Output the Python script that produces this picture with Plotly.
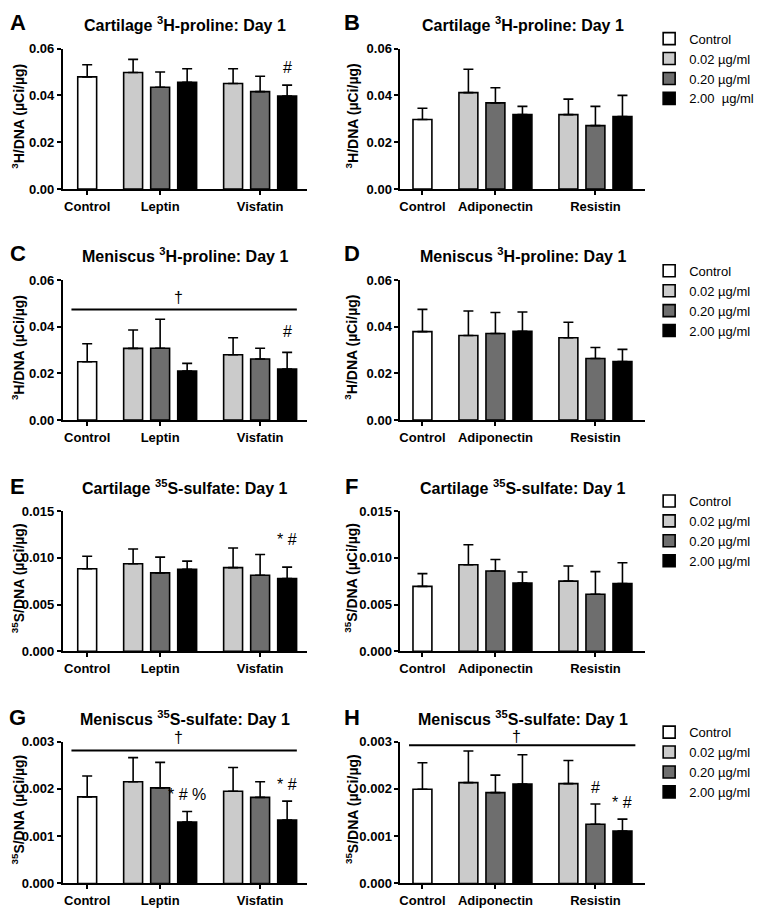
import plotly.graph_objects as go

W, H = 762, 919
FONT = "Liberation Sans, Arial, Helvetica, sans-serif"

# ---------------- data ----------------
left_groups = ["Control", "Leptin", "Visfatin"]
right_groups = ["Control", "Adiponectin", "Resistin"]
series_names = ["Control", "0.02 µg/ml", "0.20 µg/ml", "2.00 µg/ml"]
series_names_row1 = ["Control", "0.02 µg/ml", "0.20 µg/ml", "2.00  µg/ml"]

# order: Control, group1 (0.02, 0.20, 2.00), group2 (0.02, 0.20, 2.00)
A_mean = [0.0479, 0.0498, 0.0435, 0.0456, 0.0451, 0.0416, 0.0397]
A_err = [0.0052, 0.0056, 0.0065, 0.0058, 0.0063, 0.0066, 0.0047]
B_mean = [0.0297, 0.0412, 0.0368, 0.0318, 0.0318, 0.0271, 0.0310]
B_err = [0.0048, 0.0100, 0.0065, 0.0035, 0.0066, 0.0082, 0.0090]
C_mean = [0.0250, 0.0307, 0.0308, 0.0210, 0.0280, 0.0262, 0.0219]
C_err = [0.0077, 0.0079, 0.0124, 0.0033, 0.0073, 0.0046, 0.0071]
D_mean = [0.0379, 0.0362, 0.0371, 0.0380, 0.0353, 0.0264, 0.0251]
D_err = [0.0095, 0.0105, 0.0090, 0.0083, 0.0066, 0.0047, 0.0052]
E_mean = [0.00883, 0.00936, 0.00838, 0.00876, 0.00894, 0.00813, 0.00778]
E_err = [0.00133, 0.00157, 0.00168, 0.00088, 0.00210, 0.00221, 0.00122]
F_mean = [0.00694, 0.00925, 0.00859, 0.00729, 0.00750, 0.00610, 0.00725]
F_err = [0.00136, 0.00214, 0.00122, 0.00119, 0.00161, 0.00242, 0.00221]
G_mean = [0.00183, 0.00215, 0.00202, 0.00130, 0.00195, 0.00182, 0.00134]
G_err = [0.00044, 0.00051, 0.00054, 0.00022, 0.00050, 0.00033, 0.00040]
H_mean = [0.00199, 0.00213, 0.00192, 0.00210, 0.00211, 0.00125, 0.00111]
H_err = [0.00056, 0.00067, 0.00037, 0.00062, 0.00049, 0.00043, 0.00025]

titles = [
    "Cartilage <sup>3</sup>H-proline: Day 1", "Cartilage <sup>3</sup>H-proline: Day 1",
    "Meniscus <sup>3</sup>H-proline: Day 1", "Meniscus <sup>3</sup>H-proline: Day 1",
    "Cartilage <sup>35</sup>S-sulfate: Day 1", "Cartilage <sup>35</sup>S-sulfate: Day 1",
    "Meniscus <sup>35</sup>S-sulfate: Day 1", "Meniscus <sup>35</sup>S-sulfate: Day 1",
]
letters = ["A", "B", "C", "D", "E", "F", "G", "H"]
ytitle_3h = "<sup>3</sup>H/DNA (µCi/µg)"
ytitle_35s = "<sup>35</sup>S/DNA (µCi/µg)"
y_ticks_3h = [0, 0.02, 0.04, 0.06]
y_ticks_e = [0, 0.005, 0.010, 0.015]
y_ticks_g = [0, 0.001, 0.002, 0.003]

# significance marks: (panel index, slot index, text, y value)
sig_marks = [
    (0, 6, "#", 0.0518),
    (2, 6, "#", 0.0379),
    (4, 6, "* #", 0.0119),
    (6, 3, "* # %", 0.00188),
    (6, 6, "* #", 0.0021),
    (7, 5, "#", 0.00202),
    (7, 6, "* #", 0.00172),
]
# dagger lines: (panel index, line y value, dagger y value)
dagger_lines = [(2, 0.0474, 0.0526), (6, 0.00281, 0.00308), (7, 0.00292, 0.0031)]

# ---------------- layout constants ----------------
colors = ["#ffffff", "#cbcbcb", "#6e6e6e", "#000000"]
group_centers = [0.0, 2.7, 6.4]
bar_offsets = [-1.0, 0.0, 1.0]
slot_x = [group_centers[0]] + [group_centers[1] + o for o in bar_offsets] + \
         [group_centers[2] + o for o in bar_offsets]

rows_top_px = [42.3, 277.5, 512.3, 746.7]
rows_bot_px = [185.0, 420.0, 655.0, 891.0]
col_left_px = [62.0, 400.0]
col_right_px = [306.0, 645.0]
x_ranges = [[-0.898, 8.12], [-0.813, 8.24]]
title_y_px = [17, 252, 488, 723]
legend_top_px = [17, 253, 487, 722]


def py(px):
    return 1 - px / H


def pxx(px):
    return px / W


means = [A_mean, B_mean, C_mean, D_mean, E_mean, F_mean, G_mean, H_mean]
errs = [A_err, B_err, C_err, D_err, E_err, F_err, G_err, H_err]
yticks = [y_ticks_3h, y_ticks_3h, y_ticks_3h, y_ticks_3h, y_ticks_e, y_ticks_e, y_ticks_g, y_ticks_g]
yfmts = [".2f"] * 4 + [".3f"] * 4
ytitles = [ytitle_3h] * 4 + [ytitle_35s] * 4

fig = go.Figure()
annotations = []
shapes = []

for i in range(8):
    r, c = i // 2, i % 2
    n = i + 1
    xa = "x" if n == 1 else f"x{n}"
    ya = "y" if n == 1 else f"y{n}"
    xkey = "xaxis" if n == 1 else f"xaxis{n}"
    ykey = "yaxis" if n == 1 else f"yaxis{n}"
    m, e = means[i], errs[i]
    groups = left_groups if c == 0 else right_groups
    legname = "legend" if r == 0 else f"legend{r + 1}"
    names = series_names_row1 if r == 0 else series_names

    for s in range(4):
        idx = [0] if s == 0 else [s, s + 3]
        fig.add_trace(go.Bar(
            x=[slot_x[k] for k in idx],
            y=[m[k] for k in idx],
            width=0.7,
            name=names[s],
            marker=dict(color=colors[s], line=dict(color="black", width=1.6)),
            error_y=dict(type="data", symmetric=False,
                         array=[e[k] for k in idx],
                         arrayminus=[0 for _ in idx],
                         color="black", thickness=1.6, width=5),
            xaxis=xa, yaxis=ya,
            showlegend=(c == 1),
            legend=legname,
            hoverinfo="skip",
        ))

    ymax = yticks[i][-1]
    fig.update_layout(**{
        xkey: dict(
            domain=[pxx(col_left_px[c]), pxx(col_right_px[c])],
            range=x_ranges[c], anchor=ya,
            showline=True, linewidth=2, linecolor="black",
            ticks="outside", ticklen=4, tickwidth=2, tickcolor="black",
            tickvals=group_centers, ticktext=groups,
            tickfont=dict(family=FONT, size=13, color="black", weight="bold"),
            showgrid=False, zeroline=False, fixedrange=True,
        ),
        ykey: dict(
            domain=[py(rows_bot_px[r]), py(rows_top_px[r])],
            range=[0, ymax], anchor=xa,
            showline=True, linewidth=2, linecolor="black",
            ticks="outside", ticklen=4, tickwidth=2, tickcolor="black",
            tickvals=yticks[i], tickformat=yfmts[i],
            tickfont=dict(family=FONT, size=13, color="black", weight="bold"),
            showgrid=False, zeroline=False, fixedrange=True,
        ),
    })

    annotations.append(dict(
        text=titles[i], x=pxx((col_left_px[c] + col_right_px[c]) / 2), y=py(title_y_px[r]),
        xref="paper", yref="paper", xanchor="center", yanchor="middle", showarrow=False,
        font=dict(family=FONT, size=16, color="black", weight="bold"),
    ))
    annotations.append(dict(
        text=letters[i], x=pxx(17 if c == 0 else 351), y=py(title_y_px[r] - 1),
        xref="paper", yref="paper", xanchor="center", yanchor="middle", showarrow=False,
        font=dict(family=FONT, size=22, color="black", weight="bold"),
    ))
    annotations.append(dict(
        text=ytitles[i], x=pxx(17 if c == 0 else 351),
        y=py((rows_top_px[r] + rows_bot_px[r]) / 2 - 3),
        xref="paper", yref="paper", xanchor="center", yanchor="middle", showarrow=False,
        textangle=-90,
        font=dict(family=FONT, size=14, color="black", weight="bold"),
    ))

for (i, slot, txt, yv) in sig_marks:
    n = i + 1
    annotations.append(dict(
        text=txt, x=slot_x[slot], y=yv, xref=f"x{n}", yref=f"y{n}",
        xanchor="center", yanchor="middle", showarrow=False,
        font=dict(family=FONT, size=16, color="black"),
    ))

for (i, yv, dy) in dagger_lines:
    n = i + 1
    ymax = yticks[i][-1]
    shapes.append(dict(type="line", xref=f"x{n} domain", yref=f"y{n}",
                       x0=0.035, x1=0.96, y0=yv, y1=yv,
                       line=dict(color="black", width=2)))
    annotations.append(dict(
        text="†", x=0.475, y=dy / ymax, xref=f"x{n} domain", yref=f"y{n} domain",
        xanchor="center", yanchor="middle", showarrow=False,
        font=dict(family=FONT, size=16, color="black"),
    ))

legend_common = dict(x=pxx(649), xanchor="left", yanchor="top",
                     font=dict(family=FONT, size=13, color="black"),
                     bgcolor="rgba(0,0,0,0)", borderwidth=0, tracegroupgap=0,
                     itemclick=False, itemdoubleclick=False)
fig.update_layout(
    legend=dict(y=py(legend_top_px[0]), **legend_common),
    legend2=dict(y=py(legend_top_px[1]), **legend_common),
    legend3=dict(y=py(legend_top_px[2]), **legend_common),
    legend4=dict(y=py(legend_top_px[3]), **legend_common),
)

fig.update_layout(
    width=W, height=H,
    margin=dict(l=0, r=0, t=0, b=0),
    paper_bgcolor="white", plot_bgcolor="white",
    barmode="overlay",
    annotations=annotations, shapes=shapes,
    font=dict(family=FONT, color="black"),
)

fig.write_html(
    "out.html",
    config={"displayModeBar": False},
    post_script="document.body.style.margin='0px';document.body.style.overflow='hidden';",
)
